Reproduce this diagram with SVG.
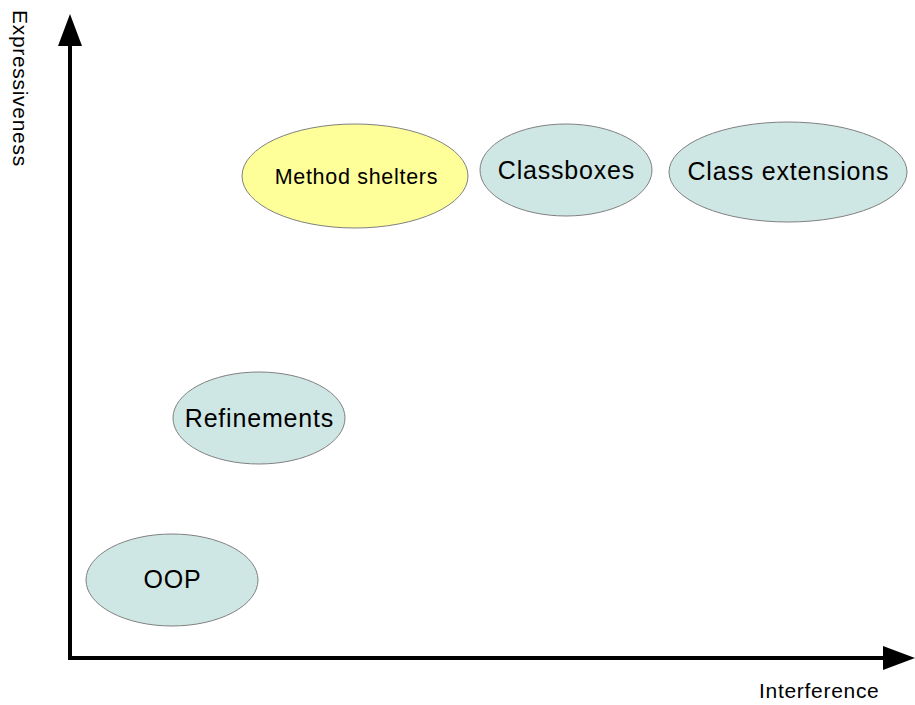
<svg xmlns="http://www.w3.org/2000/svg" width="915" height="705" viewBox="0 0 915 705">
<style>
.n{fill:#cfe7e4;stroke:#808080;stroke-width:1}
.y{fill:#ffff99;stroke:#808080;stroke-width:1}
text{font-family:"Liberation Sans",Arial,sans-serif;fill:#000}
.l{font-size:25px;letter-spacing:0.8px;text-anchor:middle}
.s{font-size:21.5px;letter-spacing:0.7px;text-anchor:middle}
.ax{font-size:21px;letter-spacing:0.7px}
</style>
<defs>
<marker id="ah" markerWidth="8" markerHeight="6" refX="0" refY="3" orient="auto" markerUnits="strokeWidth"><path d="M0,0 L8,3 L0,6 Z" fill="#000"/></marker>
</defs>
<rect width="915" height="705" fill="#fff"/>
<g id="connectors">
<line x1="70" y1="660" x2="70" y2="46" stroke="#000" stroke-width="4" marker-end="url(#ah)"/>
<line x1="68" y1="658" x2="883" y2="658" stroke="#000" stroke-width="4" marker-end="url(#ah)"/>
</g>
<g id="axis-y"><text class="ax" transform="translate(13,10) rotate(90)">Expressiveness</text></g>
<g id="axis-x"><text class="ax" x="759" y="698">Interference</text></g>
<g id="method-shelters"><ellipse class="y" cx="355" cy="176" rx="113" ry="52"/><text class="s" x="356.4" y="184">Method shelters</text></g>
<g id="classboxes"><ellipse class="n" cx="566" cy="170" rx="86" ry="46"/><text class="l" x="566.4" y="179">Classboxes</text></g>
<g id="class-extensions"><ellipse class="n" cx="788" cy="172" rx="119" ry="50"/><text class="l" x="788.4" y="180">Class extensions</text></g>
<g id="refinements"><ellipse class="n" cx="259" cy="418" rx="86" ry="46"/><text class="l" x="259.4" y="427">Refinements</text></g>
<g id="oop"><ellipse class="n" cx="172" cy="580" rx="86" ry="46"/><text class="l" x="172.4" y="588">OOP</text></g>
</svg>
